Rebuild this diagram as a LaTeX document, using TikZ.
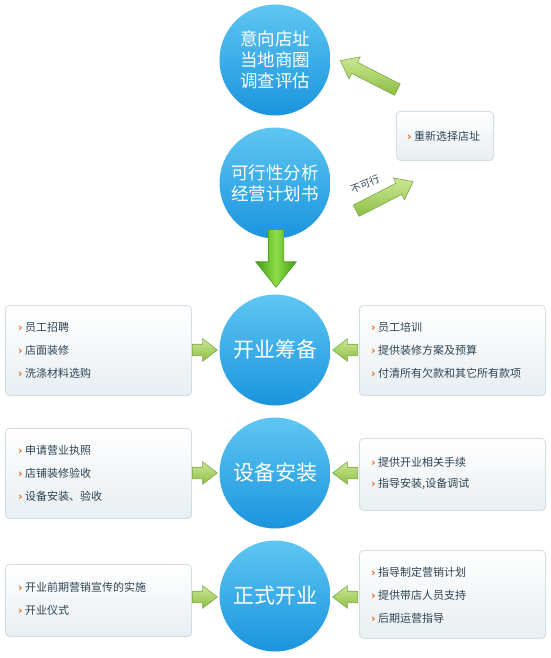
\documentclass[tikz,border=0pt]{standalone}
\usepackage{fontspec}
\newfontfamily\cjk{Noto Sans CJK SC}
\newfontfamily\bulf{DejaVu Sans}
\usetikzlibrary{shapes.arrows,shadows}
\definecolor{cirtop}{HTML}{5EC6F2}
\definecolor{cirbot}{HTML}{1B94DE}
\definecolor{boxline}{HTML}{D2DEE4}
\definecolor{boxbot}{HTML}{E8EEF2}
\definecolor{itemtext}{HTML}{2E4352}
\definecolor{bulc}{HTML}{EE6A1E}
\definecolor{agtop}{HTML}{CDE795}
\definecolor{agbot}{HTML}{8CBE44}
\definecolor{agline}{HTML}{7DA748}
\definecolor{dgtop}{HTML}{8EDC4A}
\definecolor{dgbot}{HTML}{3F9E12}
\definecolor{dgline}{HTML}{4C9C1E}
\newcommand\bul{{\bulf\bfseries\color{bulc}›}\hspace{2.5pt}}
\begin{document}
\begin{tikzpicture}[x=1pt,y=-1pt,
  circ/.style={circle, minimum size=111pt, inner sep=0pt, top color=cirtop, bottom color=cirbot, text=white, align=center},
  ctext/.style={font=\cjk\fontsize{17.5}{21}\selectfont},
  btext/.style={font=\cjk\fontsize{21}{24}\selectfont},
  infobox/.style={draw=boxline, line width=0.8pt, rounded corners=4pt, top color=white, bottom color=boxbot, inner sep=0pt, anchor=north west,
    drop shadow={opacity=0.12, shadow xshift=0.8pt, shadow yshift=-0.8pt}},
  item/.style={font=\cjk\fontsize{11}{13}\selectfont, text=itemtext, inner sep=0pt, anchor=west},
  garrow/.style={single arrow, draw=agline, line width=0.6pt, inner xsep=0pt, text height=0pt, text depth=0pt,
    single arrow tip angle=75, top color=agtop, bottom color=agbot},
  harrow/.style={garrow, minimum height=25pt, minimum width=22pt, inner ysep=5.5pt, single arrow head extend=5.5pt},
  darrow/.style={garrow, minimum height=64pt, minimum width=24pt, inner ysep=6pt, single arrow head extend=6pt}
]
\useasboundingbox (0,0) rectangle (550,658);

% circles
\node[circ, ctext] (c1) at (275,60) {意向店址\\当地商圈\\调查评估};
\node[circ, ctext] (c2) at (275,183) {可行性分析\\经营计划书};
\node[circ, btext] (c3) at (275,350) {开业筹备};
\node[circ, btext] (c4) at (275,473) {设备安装};
\node[circ, btext] (c5) at (275,596) {正式开业};

% reselect box
\node[infobox, minimum width=97pt, minimum height=49pt] (rs) at (396,111) {};
\node[item] (rs1) at (407,136) {\bul 重新选择店址};

% diagonal arrows
\node[darrow, rotate=153] (back) at (372.5,77) {};
\node[darrow, rotate=27] (nogo) at (381,198) {};
\node[font=\cjk\fontsize{10}{12}\selectfont, text=itemtext, rotate=22, inner sep=0pt] (nolbl) at (365,184) {不可行};

% down arrow
\node[single arrow, shape border rotate=270, draw=dgline, line width=0.6pt, inner xsep=7.5pt, inner ysep=0pt, text height=0pt, text depth=0pt,
  single arrow head extend=12.5pt, minimum width=40pt, minimum height=58pt, single arrow tip angle=77,
  left color=dgbot, right color=dgbot, middle color=dgtop, anchor=tail] (down) at (276,229) {};

% left boxes
\node[infobox, minimum width=186pt, minimum height=90pt] (L1) at (5,305) {};
\node[item] at (18,327) {\bul 员工招聘};
\node[item] at (18,350) {\bul 店面装修};
\node[item] at (18,373) {\bul 洗涤材料选购};

\node[infobox, minimum width=186pt, minimum height=90pt] (L2) at (5,428) {};
\node[item] at (18,450) {\bul 申请营业执照};
\node[item] at (18,473) {\bul 店铺装修验收};
\node[item] at (18,496) {\bul 设备安装、验收};

\node[infobox, minimum width=186pt, minimum height=72pt] (L3) at (5,564) {};
\node[item] at (18,587) {\bul 开业前期营销宣传的实施};
\node[item] at (18,610) {\bul 开业仪式};

% right boxes
\node[infobox, minimum width=186pt, minimum height=90pt] (R1) at (359,305) {};
\node[item] at (371,327) {\bul 员工培训};
\node[item] at (371,350) {\bul 提供装修方案及预算};
\node[item] at (371,373) {\bul 付清所有欠款和其它所有款项};

\node[infobox, minimum width=186pt, minimum height=72pt] (R2) at (359,438) {};
\node[item] at (371,462) {\bul 提供开业相关手续};
\node[item] at (371,484) {\bul 指导安装,设备调试};

\node[infobox, minimum width=186pt, minimum height=88pt] (R3) at (359,550) {};
\node[item] at (371,572) {\bul 指导制定营销计划};
\node[item] at (371,595) {\bul 提供带店人员支持};
\node[item] at (371,618) {\bul 后期运营指导};

% horizontal arrows
\node[harrow, anchor=tail] (a1) at (192,350) {};
\node[harrow, anchor=tail] (a2) at (192,473) {};
\node[harrow, anchor=tail] (a3) at (192,597) {};
\node[harrow, shape border rotate=180, anchor=tail] (b1) at (358,350) {};
\node[harrow, shape border rotate=180, anchor=tail] (b2) at (358,473) {};
\node[harrow, shape border rotate=180, anchor=tail] (b3) at (358,597) {};
\end{tikzpicture}
\end{document}
